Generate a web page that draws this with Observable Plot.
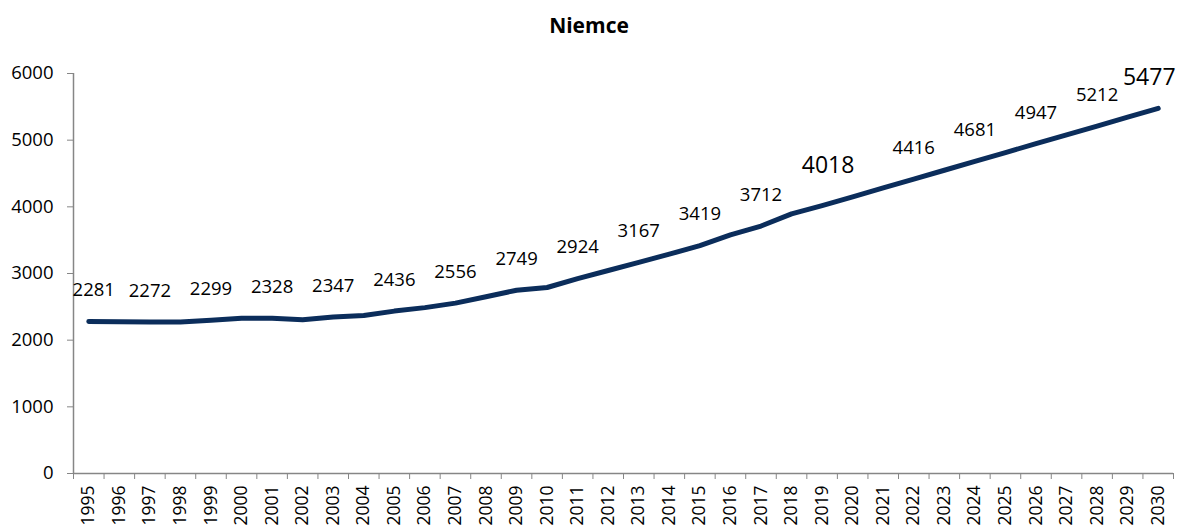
<!DOCTYPE html>
<html>
<head>
<meta charset="utf-8">
<script src="https://cdn.jsdelivr.net/npm/d3@7"></script>
<script src="https://cdn.jsdelivr.net/npm/@observablehq/plot@0.6"></script>
<style>
  html, body { margin: 0; padding: 0; background: #fff; }
  #title { height: 50px; line-height: 50px; text-align: center; font-family: "Open Sans", sans-serif; font-weight: bold; font-size: 21px; color: #000; }
</style>
</head>
<body>
<div id="title">Niemce</div>
<div id="chart"></div>
<script>
const years = [1995, 1996, 1997, 1998, 1999, 2000, 2001, 2002, 2003, 2004, 2005, 2006,
  2007, 2008, 2009, 2010, 2011, 2012, 2013, 2014, 2015, 2016, 2017, 2018,
  2019, 2020, 2021, 2022, 2023, 2024, 2025, 2026, 2027, 2028, 2029, 2030];
const values = [2281, 2276, 2272, 2273, 2299, 2330, 2328, 2305, 2347, 2370, 2436, 2488,
  2556, 2652, 2749, 2790, 2924, 3045, 3167, 3290, 3419, 3580, 3712, 3895,
  4018, 4150, 4283, 4416, 4549, 4681, 4814, 4947, 5080, 5212, 5345, 5477];
const labelYears = [1995, 1997, 1999, 2001, 2003, 2005, 2007, 2009, 2011, 2013, 2015, 2017, 2019, 2022, 2024, 2026, 2028, 2030];
const bigLabelYears = [2019, 2030];
const yTicks = [0, 1000, 2000, 3000, 4000, 5000, 6000];

const data = years.map((year, i) => ({year, value: values[i]}));
const labels = data.filter(d => labelYears.includes(d.year));
const normalLabels = labels.filter(d => !bigLabelYears.includes(d.year));
const firstLabel = normalLabels.slice(0, 1);
const otherLabels = normalLabels.slice(1);
const midBig = labels.filter(d => d.year === bigLabelYears[0]);
const endBig = labels.filter(d => d.year === bigLabelYears[1]);
const boundaries = years.map(y => y - 0.5).concat([years[years.length - 1] + 0.5]);

const gray = "#868686";
const navy = "#0b2d5b";

const chart = Plot.plot({
  width: 1178,
  height: 479,
  marginTop: 23,
  marginBottom: 56,
  marginLeft: 73,
  marginRight: 5,
  style: {fontFamily: "Open Sans, sans-serif", fontSize: "18px", color: "#000", background: "#fff"},
  x: {type: "linear", domain: [boundaries[0], boundaries[boundaries.length - 1]], label: null},
  y: {domain: [0, 6000], label: null},
  marks: [
    Plot.ruleY([0], {stroke: gray, strokeWidth: 1.5}),
    Plot.ruleX([boundaries[0]], {stroke: gray, strokeWidth: 1.5}),
    Plot.axisY({ticks: yTicks, tickSize: 6, tickPadding: 14, stroke: gray, fontSize: 18.5, label: null, tickFormat: d => String(d)}),
    Plot.axisX({ticks: boundaries, tickSize: 6, stroke: gray, tickFormat: () => "", label: null}),
    Plot.axisX({ticks: years, tickSize: 0, tickPadding: 12, tickRotate: -90, fontSize: 17.5, label: null, tickFormat: d => String(d)}),
    Plot.line(data, {x: "year", y: "value", stroke: navy, strokeWidth: 5, strokeLinecap: "round", strokeLinejoin: "round"}),
    Plot.text(firstLabel, {x: "year", y: "value", text: d => String(d.value), dy: -31, dx: 5, fontSize: 18.5, fill: "#000"}),
    Plot.text(otherLabels, {x: "year", y: "value", text: d => String(d.value), dy: -31, fontSize: 18.5, fill: "#000"}),
    Plot.text(midBig, {x: "year", y: "value", text: d => String(d.value), dy: -40, dx: 6, fontSize: 23, fill: "#000"}),
    Plot.text(endBig, {x: "year", y: "value", text: d => String(d.value), dy: -31, dx: -9, fontSize: 23, fill: "#000"})
  ]
});
document.getElementById("chart").appendChild(chart);
</script>
</body>
</html>
